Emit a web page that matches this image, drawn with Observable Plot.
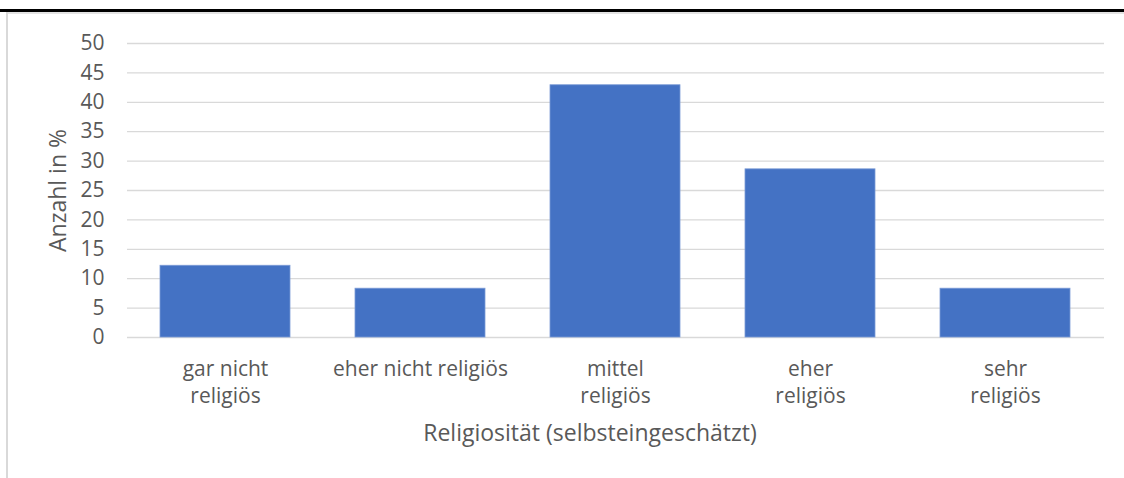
<!DOCTYPE html>
<html>
<head>
<meta charset="utf-8">
<script src="https://cdn.jsdelivr.net/npm/d3@7"></script>
<script src="https://cdn.jsdelivr.net/npm/@observablehq/plot@0.6"></script>
<style>
  html, body { margin: 0; padding: 0; background: #fff; }
  #wrap { position: relative; width: 1124px; height: 478px; overflow: hidden; }
  #topline { position: absolute; left: 0; top: 9px; width: 1124px; height: 2.5px; background: #000; }
  #topgray { position: absolute; left: 6px; top: 12px; width: 1118px; height: 1.5px; background: #e3e3e3; }
  #leftgray { position: absolute; left: 6px; top: 12px; width: 2px; height: 466px; background: #d9d9d9; }
  #chart { position: absolute; left: 0; top: 0; }
</style>
</head>
<body>
<div id="wrap">
  <div id="chart"></div>
  <div id="topline"></div>
  <div id="topgray"></div>
  <div id="leftgray"></div>
</div>
<script>
const categories = ["gar nicht religiös", "eher nicht religiös", "mittel religiös", "eher religiös", "sehr religiös"];
const tickLabels = ["gar nicht\nreligiös", "eher nicht religiös", "mittel\nreligiös", "eher\nreligiös", "sehr\nreligiös"];
const values = [12.2, 8.3, 42.9, 28.6, 8.3];
const yTicks = [0, 5, 10, 15, 20, 25, 30, 35, 40, 45, 50];
const yLabel = "Anzahl in %";
const xLabel = "Religiosität (selbsteingeschätzt)";

const data = categories.map((c, i) => ({category: c, value: values[i]}));
const labelOf = new Map(categories.map((c, i) => [c, tickLabels[i]]));

const chart = Plot.plot({
  width: 1124,
  height: 478,
  marginLeft: 127,
  marginRight: 20,
  marginTop: 43,
  marginBottom: 141,
  style: {fontFamily: "'Open Sans', sans-serif", fontSize: "21px", color: "#595959", background: "transparent"},
  x: {domain: categories, paddingInner: 0.333, paddingOuter: 0.1667, label: null},
  y: {domain: [0, 50], label: null},
  marks: [
    Plot.ruleY(yTicks, {stroke: "#d9d9d9", strokeWidth: 1.3}),
    Plot.barY(data, {x: "category", y: "value", fill: "#4472C4", stroke: "#7c9bd6", strokeWidth: 0.8}),
    Plot.axisY({ticks: yTicks, tickSize: 0, tickPadding: 23, fontSize: 21, fill: "#595959", label: null}),
    Plot.axisX({tickSize: 0, tickPadding: 19, fontSize: 21, fill: "#595959", lineHeight: 1.3, tickFormat: d => labelOf.get(d), label: null}),
    Plot.text([yLabel], {frameAnchor: "left", textAnchor: "middle", rotate: -90, dx: -69, fontSize: 23, fill: "#595959"}),
    Plot.text([xLabel], {frameAnchor: "bottom", dx: -26, dy: 103, fontSize: 23, fill: "#595959"})
  ]
});
document.getElementById("chart").appendChild(chart);
</script>
</body>
</html>
